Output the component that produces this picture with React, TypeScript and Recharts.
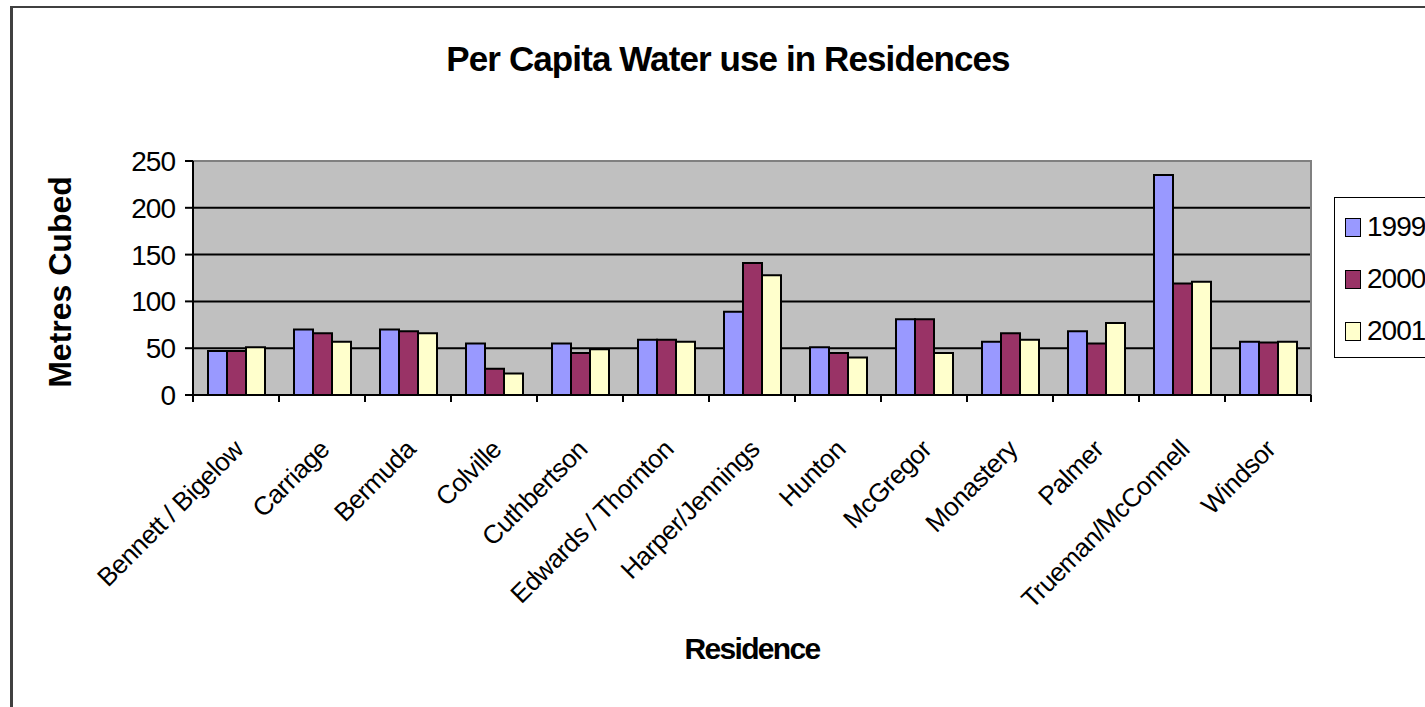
import React from 'react';
import {
  BarChart,
  Bar,
  XAxis,
  YAxis,
  CartesianGrid,
  ReferenceArea,
  Legend,
  Label,
} from 'recharts';

const residences = [
  'Bennett / Bigelow',
  'Carriage',
  'Bermuda',
  'Colville',
  'Cuthbertson',
  'Edwards / Thornton',
  'Harper/Jennings',
  'Hunton',
  'McGregor',
  'Monastery',
  'Palmer',
  'Trueman/McConnell',
  'Windsor',
];
const use1999 = [47, 70, 70, 55, 55, 59, 89, 51, 81, 57, 68, 235, 57];
const use2000 = [47, 66, 68, 28, 45, 59, 141, 45, 81, 66, 55, 119, 56];
const use2001 = [51, 57, 66, 23, 49, 57, 128, 40, 45, 59, 77, 121, 57];
const yTicks = [0, 50, 100, 150, 200, 250];
const gridValues = [50, 100, 150, 200];

const series = [
  { key: 'y1999', name: '1999', color: '#9999FF' },
  { key: 'y2000', name: '2000', color: '#993366' },
  { key: 'y2001', name: '2001', color: '#FFFFCC' },
];

const data = residences.map((name, i) => ({
  name,
  y1999: use1999[i],
  y2000: use2000[i],
  y2001: use2001[i],
}));

const FONT = '"Liberation Sans", Arial, sans-serif';

// category labels sit at the band centre, tick marks at the band edges
const XTick = (props: any) => {
  const { x, y, payload, index } = props;
  const half = payload && typeof payload.offset === 'number' ? payload.offset : 43;
  const axisY = y - 7;
  const tx = x + 9;
  const ty = y + 49;
  return (
    <g>
      <line x1={x - half} y1={axisY} x2={x - half} y2={axisY + 7} stroke="#000" strokeWidth={2} />
      {index === residences.length - 1 && (
        <line x1={x + half} y1={axisY} x2={x + half} y2={axisY + 7} stroke="#000" strokeWidth={2} />
      )}
      <text
        x={tx}
        y={ty}
        transform={`rotate(-45 ${tx} ${ty})`}
        textAnchor="end"
        fontSize={26}
        letterSpacing={-0.5}
        fill="#000"
      >
        {payload.value}
      </text>
    </g>
  );
};

const LegendBox = () => (
  <div
    style={{
      border: '1px solid #000',
      height: 161,
      width: 140,
      boxSizing: 'border-box',
      paddingTop: 3,
      background: '#fff',
      fontFamily: FONT,
    }}
  >
    {series.map((s) => (
      <div key={s.key} style={{ display: 'flex', alignItems: 'center', height: 52 }}>
        <span
          style={{
            display: 'inline-block',
            width: 16,
            height: 19,
            boxSizing: 'border-box',
            background: s.color,
            border: '1.5px solid #000',
            marginLeft: 10,
            marginRight: 6,
          }}
        />
        <span style={{ fontSize: 28, letterSpacing: -1, color: '#000' }}>{s.name}</span>
      </div>
    ))}
  </div>
);

export default function App() {
  return (
    <div
      style={{
        position: 'fixed',
        left: 0,
        top: 0,
        width: 1425,
        height: 707,
        overflow: 'hidden',
        background: '#fff',
        fontFamily: FONT,
      }}
    >
      <div
        style={{
          position: 'absolute',
          left: 10,
          top: 6,
          width: 1600,
          height: 900,
          borderLeft: '3px solid #404040',
          borderTop: '2px solid #404040',
        }}
      />
      <div
        style={{
          position: 'absolute',
          left: 228,
          top: 41,
          width: 1000,
          textAlign: 'center',
          fontSize: 35,
          lineHeight: 1,
          fontWeight: 'bold',
          letterSpacing: -0.9,
          color: '#000',
        }}
      >
        Per Capita Water use in Residences
      </div>
      <div style={{ position: 'absolute', left: 0, top: 0 }}>
        <BarChart
          width={1480}
          height={707}
          data={data}
          margin={{ top: 161, right: 169, left: 113, bottom: 252 }}
          barCategoryGap={15}
          barGap={0}
        >
          <CartesianGrid
            vertical={false}
            horizontalValues={gridValues}
            fill="#C0C0C0"
            fillOpacity={1}
            stroke="#000"
            strokeWidth={2}
          />
          <ReferenceArea y1={0} y2={250} fill="none" stroke="#808080" strokeWidth={2} />
          <XAxis
            dataKey="name"
            interval={0}
            height={60}
            tickSize={7}
            tickMargin={0}
            tickLine={false}
            axisLine={{ stroke: '#000', strokeWidth: 2 }}
            tick={<XTick />}
          >
            <Label
              content={(p: any) => {
                const vb = p.viewBox;
                const cx = vb.x + vb.width / 2;
                const cy = vb.y + 253;
                return (
                  <text
                    x={cx}
                    y={cy}
                    textAnchor="middle"
                    dominantBaseline="central"
                    fontSize={30}
                    fontWeight="bold"
                    letterSpacing={-1.7}
                    fill="#000"
                  >
                    Residence
                  </text>
                );
              }}
            />
          </XAxis>
          <YAxis
            domain={[0, 250]}
            ticks={yTicks}
            width={80}
            tickSize={8}
            tickMargin={10}
            tickLine={{ stroke: '#000', strokeWidth: 2 }}
            axisLine={{ stroke: '#000', strokeWidth: 2 }}
            tick={{ fontSize: 28, fill: '#000', letterSpacing: -1 }}
          >
            <Label
              content={(p: any) => {
                const vb = p.viewBox;
                const cx = vb.x - 53;
                const cy = vb.y + vb.height / 2 + 4;
                return (
                  <text
                    x={cx}
                    y={cy}
                    transform={`rotate(-90 ${cx} ${cy})`}
                    textAnchor="middle"
                    dominantBaseline="central"
                    fontSize={32}
                    fontWeight="bold"
                    fill="#000"
                  >
                    Metres Cubed
                  </text>
                );
              }}
            />
          </YAxis>
          <Legend
            layout="vertical"
            align="center"
            verticalAlign="middle"
            content={<LegendBox />}
            wrapperStyle={{ left: 1334, top: 197, width: 140, height: 161 }}
          />
          {series.map((s) => (
            <Bar
              key={s.key}
              dataKey={s.key}
              name={s.name}
              fill={s.color}
              stroke="#000"
              strokeWidth={2}
              isAnimationActive={false}
            />
          ))}
        </BarChart>
      </div>
    </div>
  );
}
